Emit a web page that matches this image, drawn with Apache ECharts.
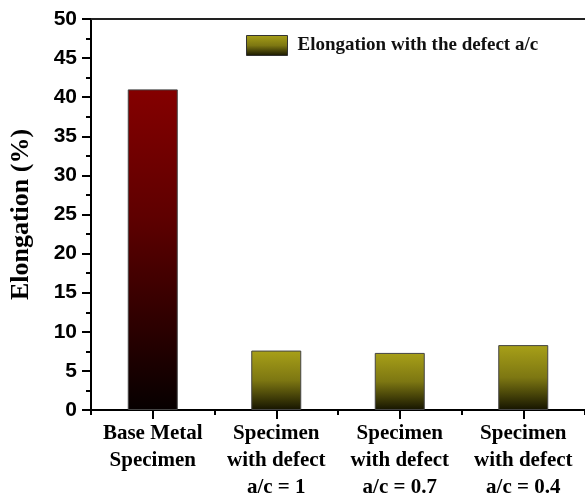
<!DOCTYPE html>
<html>
<head>
<meta charset="utf-8">
<script src="https://cdn.jsdelivr.net/npm/echarts@6/dist/echarts.min.js"></script>
<style>
html,body{margin:0;padding:0;background:#fff;}
#chart{width:585px;height:502px;}
</style>
</head>
<body>
<div id="chart"></div>
<script>
var categories = ['Base Metal\nSpecimen', 'Specimen\nwith defect\na/c = 1', 'Specimen\nwith defect\na/c = 0.7', 'Specimen\nwith defect\na/c = 0.4'];
var baseValues = [41, '-', '-', '-'];
var defectValues = ['-', 7.6, 7.3, 8.3];
var yTicks = { min: 0, max: 50, interval: 5 };
var legendName = 'Elongation with the defect a/c';
var yName = 'Elongation (%)';

var serif = '"Liberation Serif", "Times New Roman", serif';
var sans = '"Liberation Sans", Arial, sans-serif';

var redGrad = new echarts.graphic.LinearGradient(0, 0, 0, 1, [
  { offset: 0, color: '#840000' },
  { offset: 0.4, color: '#5e0000' },
  { offset: 1, color: '#060000' }
]);
var yellowGrad = new echarts.graphic.LinearGradient(0, 0, 0, 1, [
  { offset: 0, color: '#a8a018' },
  { offset: 0.5, color: '#7d7712' },
  { offset: 1, color: '#151400' }
]);

var chart = echarts.init(document.getElementById('chart'), null, { renderer: 'canvas' });
chart.setOption({
  animation: false,
  backgroundColor: '#ffffff',
  grid: { left: 87, right: 0, top: 19, bottom: 92, containLabel: false },
  legend: {
    data: [legendName],
    left: 246, top: 35, padding: 0,
    itemWidth: 41, itemHeight: 20,
    icon: 'rect',
    itemStyle: { borderColor: '#333', borderWidth: 1 },
    textStyle: { fontFamily: serif, fontWeight: 'bold', fontSize: 19, color: '#111', padding: [0, 0, 0, 5] }
  },
  xAxis: [
    {
      type: 'category', data: categories, position: 'bottom',
      axisLine: { show: true, lineStyle: { color: '#000', width: 2 } },
      axisTick: { show: true, alignWithLabel: true, length: 9, inside: false, lineStyle: { color: '#000', width: 2 } },
      axisLabel: { fontFamily: serif, fontWeight: 'bold', fontSize: 21, color: '#000', lineHeight: 27, margin: 10, interval: 0 },
      splitLine: { show: false }
    },
    {
      type: 'category', data: categories, position: 'bottom',
      axisLine: { show: false },
      axisTick: { show: true, length: 5, lineStyle: { color: '#000', width: 2 } },
      axisLabel: { show: false },
      splitLine: { show: false }
    },
    {
      type: 'category', data: categories, position: 'top',
      axisLine: { show: true, lineStyle: { color: '#222', width: 2 } },
      axisTick: { show: false },
      axisLabel: { show: false },
      splitLine: { show: false }
    }
  ],
  yAxis: {
    type: 'value', min: yTicks.min, max: yTicks.max, interval: yTicks.interval,
    name: yName, nameLocation: 'middle', nameGap: 57, nameRotate: 90,
    nameTextStyle: { fontFamily: serif, fontWeight: 'bold', fontSize: 26, color: '#000' },
    axisLine: { show: true, lineStyle: { color: '#000', width: 2 } },
    axisTick: { show: true, length: 9, lineStyle: { color: '#000', width: 2 } },
    minorTick: { show: true, splitNumber: 2, length: 5, lineStyle: { color: '#000', width: 2 } },
    axisLabel: { fontFamily: sans, fontWeight: 'bold', fontSize: 21, color: '#000', margin: 14 },
    splitLine: { show: false }
  },
  series: [
    {
      name: 'Base Metal', type: 'bar', data: baseValues, barWidth: 50, barGap: '-100%',
      itemStyle: { color: redGrad, borderColor: '#444', borderWidth: 1 }
    },
    {
      name: legendName, type: 'bar', data: defectValues, barWidth: 50, barGap: '-100%',
      itemStyle: { color: yellowGrad, borderColor: '#444', borderWidth: 1 }
    }
  ]
});
</script>
</body>
</html>
